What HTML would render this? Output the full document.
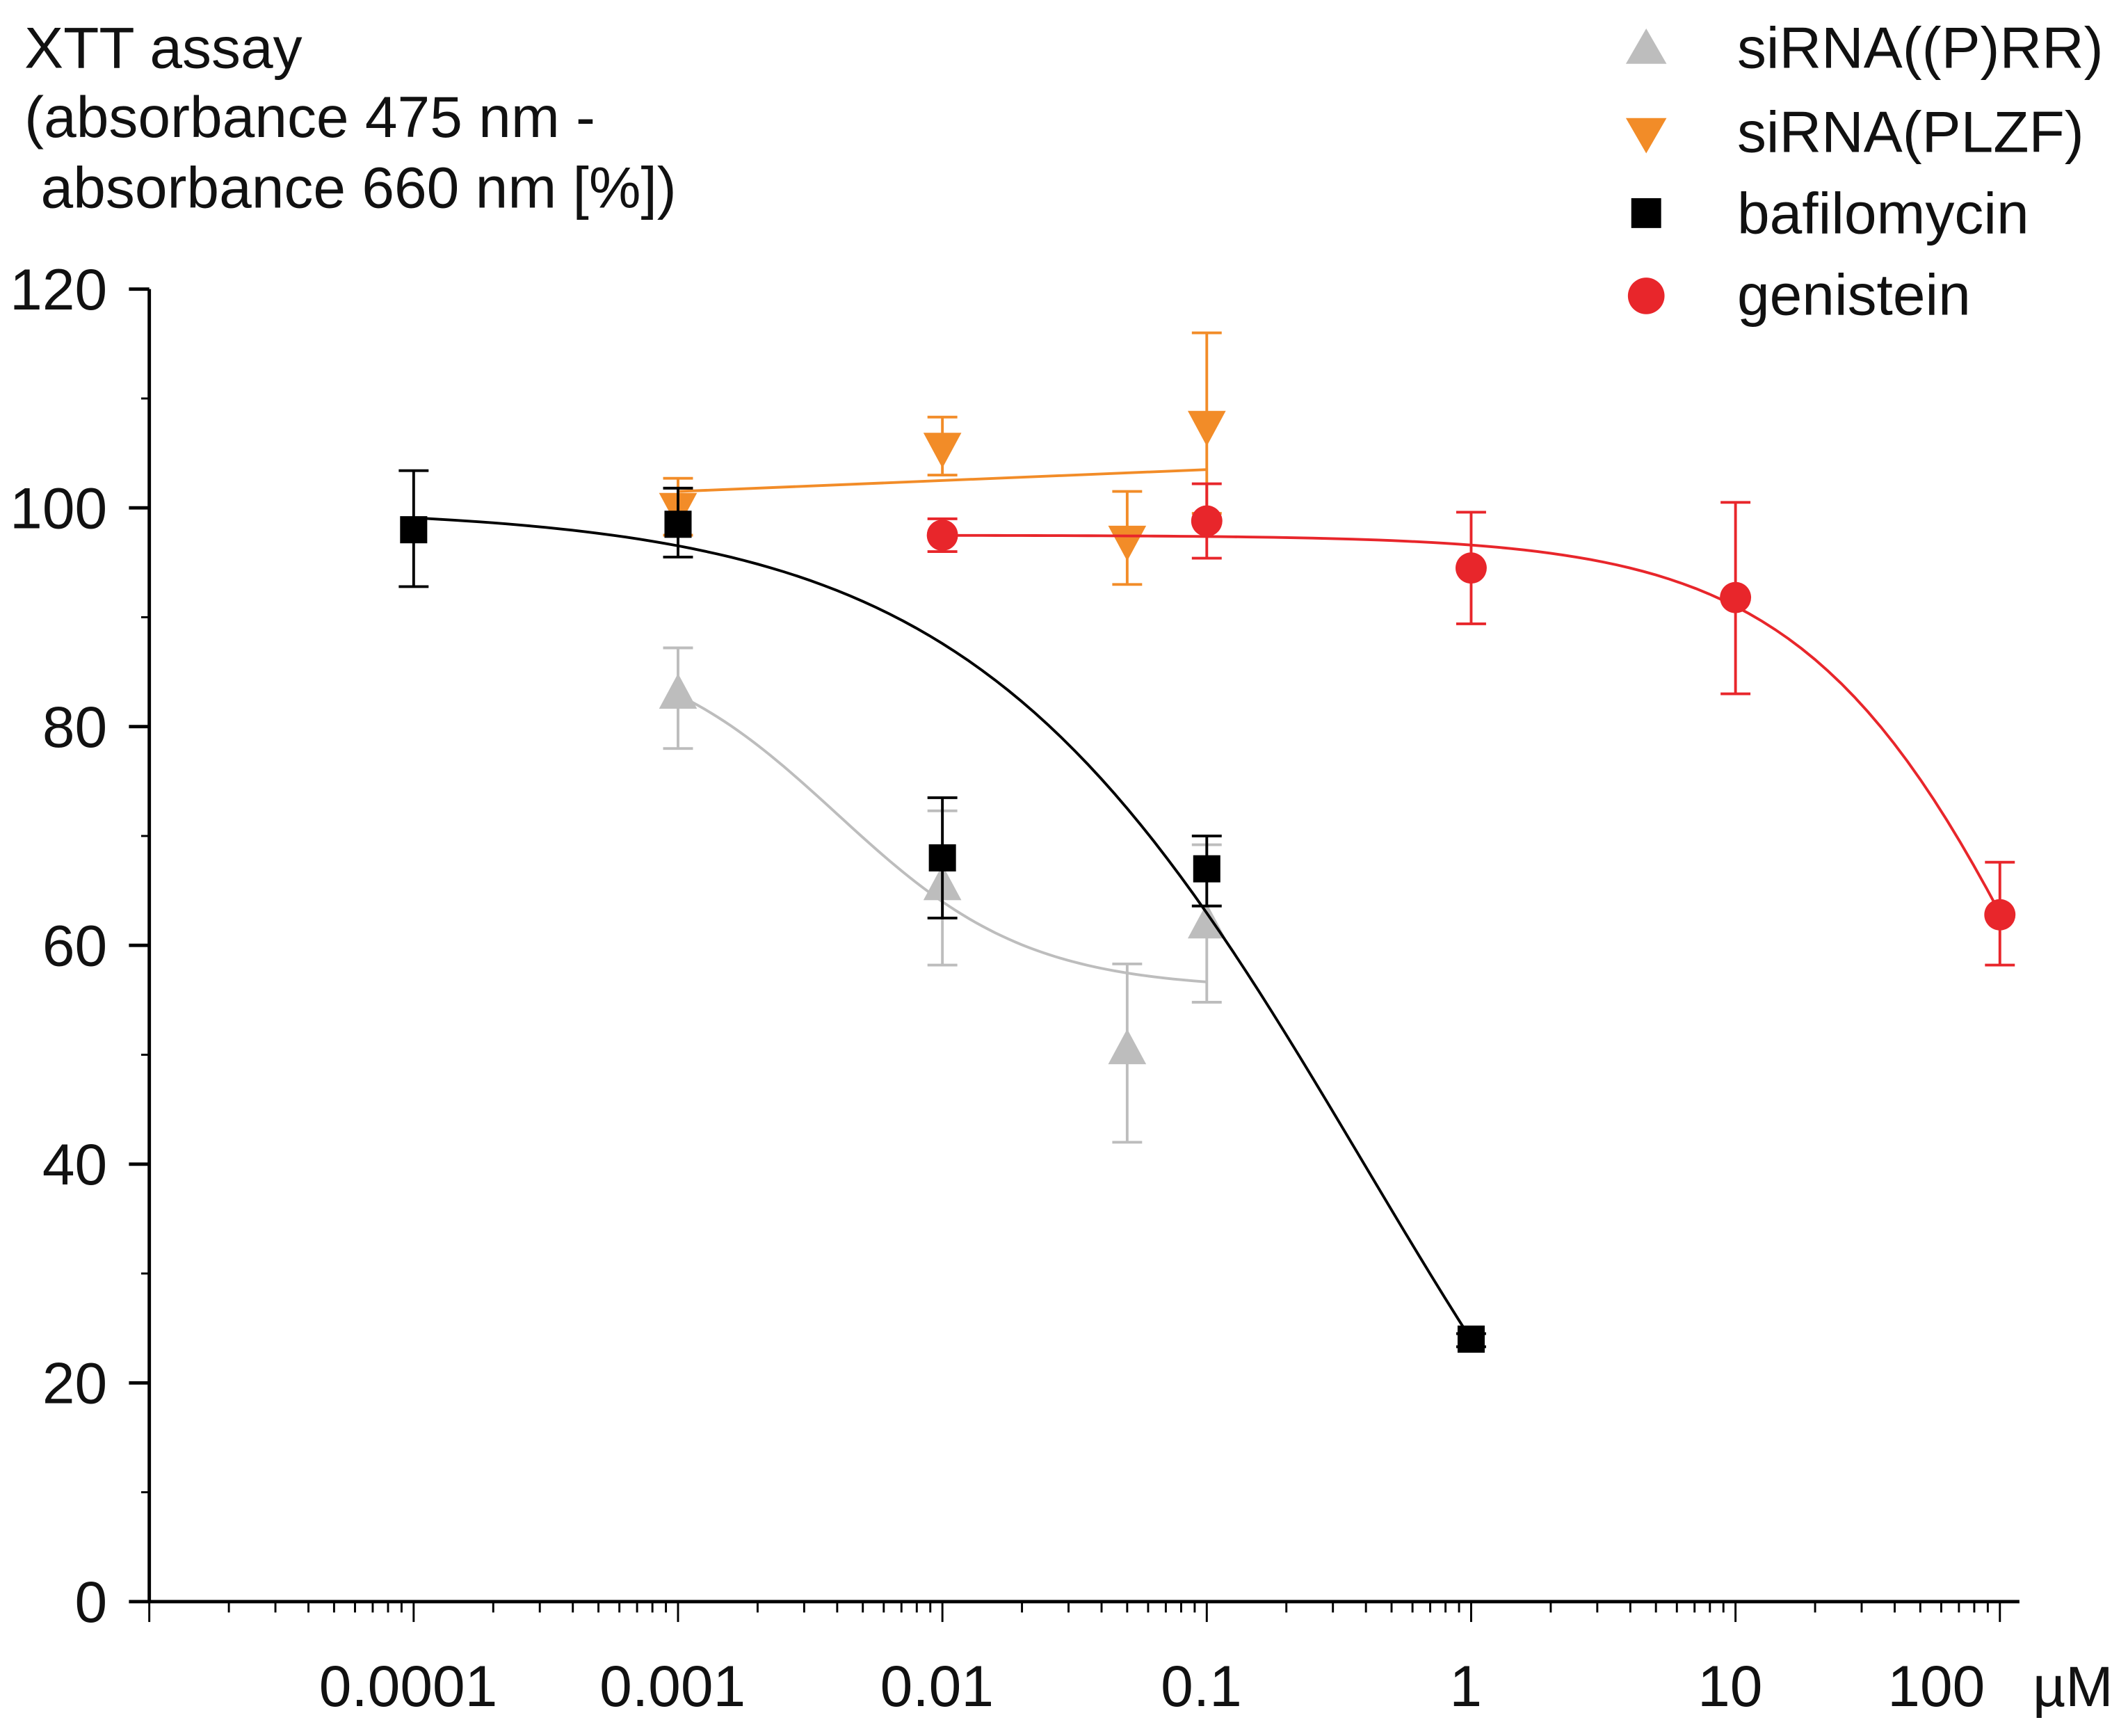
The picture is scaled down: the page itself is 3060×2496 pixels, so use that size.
<!DOCTYPE html>
<html><head><meta charset="utf-8"><style>
html,body{margin:0;padding:0;background:#fff;}
svg{display:block;}
text{font-family:"Liberation Sans",Arial,sans-serif;}
</style></head><body>
<svg id="chart" width="3060" height="2496" viewBox="0 0 1568 1279" preserveAspectRatio="none" xmlns="http://www.w3.org/2000/svg">
<g id="axes"></g>
<g id="series"></g>
<g font-size="43" fill="#111">
<text x="18" y="50">XTT assay</text>
<text x="18" y="101">(absorbance 475 nm -</text>
<text x="30" y="153">absorbance 660 nm [%])</text>
</g>
<text x="1557" y="1257" text-anchor="end" font-size="42" fill="#111">µM</text>
<g font-size="43" fill="#111">
<g><polygon points="1213,21 1228,47 1198,47" fill="#bdbdbd"/><text x="1280" y="50">siRNA((P)RR)</text></g>
<g><polygon points="1198,87 1228,87 1213,113" fill="#f28c28"/><text x="1280" y="112">siRNA(PLZF)</text></g>
<g><rect x="1202" y="146" width="22" height="22" fill="#000"/><text x="1280" y="172">bafilomycin</text></g>
<g><circle cx="1213" cy="218" r="13.5" fill="#e8262b"/><text x="1280" y="232">genistein</text></g>
</g>
</svg>
<script>
const yTicks=[0,20,40,60,80,100,120];
const xTickVals=[0.0001,0.001,0.01,0.1,1,10,100];
const xTickLabels=["0.0001","0.001","0.01","0.1","1","10","100"];
const prrX=[0.001,0.01,0.05,0.1];
const prrY=[83,65.5,50.5,62];
const prrLo=[78,58.2,42,54.8];
const prrHi=[87.2,72.3,58.3,69.2];
const prrFit=[88,56,0.004,1.2]; // top,bottom,ic50,hill
const plzfX=[0.001,0.01,0.05,0.1];
const plzfY=[100,105.5,97,107.5];
const plzfLo=[97.5,103,93,99.5];
const plzfHi=[102.7,108.3,101.5,116];
const plzfLine=[101.5,103.5];
const bafX=[0.0001,0.001,0.01,0.1,1];
const bafY=[98,98.5,68,67,24];
const bafLo=[92.8,95.5,62.5,63.6,23.3];
const bafHi=[103.4,101.8,73.5,70,24.5];
const bafFit=[100,-20,0.394,0.588];
const genX=[0.01,0.1,1,10,100];
const genY=[97.5,98.8,94.5,91.8,62.8];
const genLo=[96,95.4,89.4,83,58.2];
const genHi=[99,102.2,99.6,100.5,67.6];
const genFit=[97.5,0,197,0.885];

const NS="http://www.w3.org/2000/svg";
const X0=110,DEC=194.8,YB=1180,YT=213;
function sx(v){return X0+(Math.log10(v)+5)*DEC;}
function sy(v){return YB-(v/120)*(YB-YT);}
function mk(p,tag,attrs){const e=document.createElementNS(NS,tag);for(const k in attrs)e.setAttribute(k,attrs[k]);p.appendChild(e);return e;}
const axes=document.getElementById('axes');
const ser=document.getElementById('series');
let e;
e=mk(axes,'line',{x1:X0,y1:YT,x2:X0,y2:YB+1,stroke:'#000','stroke-width':2.5});


e=mk(axes,'line',{x1:X0-1,y1:YB,x2:1488,y2:YB,stroke:'#000','stroke-width':2.5});


for(let v=0;v<=120;v+=10){
  const major=v%20===0;
  e=mk(axes,'line',{x1:major?X0-15:X0-6,y1:sy(v),x2:X0,y2:sy(v),stroke:'#000','stroke-width':major?2.5:1.5});
  
  
}
yTicks.forEach(v=>{
  e=mk(axes,'text',{x:79,y:sy(v)+15,'text-anchor':'end','font-size':43,fill:'#111'});
  e.textContent=v;
  
  
});
for(let d=-5;d<=2;d++){
  for(let m=1;m<=9;m++){
    const v=m*Math.pow(10,d);const x=sx(v);if(x>1488)break;
    e=mk(axes,'line',{x1:x,y1:YB,x2:x,y2:m===1?YB+15:YB+8,stroke:'#000','stroke-width':1.5});
    
    
  }
}
xTickVals.forEach((v,i)=>{
  const last=i===xTickVals.length-1;
  e=mk(axes,'text',{x:last?sx(v)-11:sx(v)-4,y:1257,'text-anchor':last?'end':'middle','font-size':43,fill:'#111'});
  e.textContent=xTickLabels[i];
  
  
});
function fit(p,x){return p[1]+(p[0]-p[1])/(1+Math.pow(x/p[2],p[3]));}
function curve(p,x1,x2,color,name){
  let d='';const n=80;
  for(let i=0;i<=n;i++){const lx=Math.log10(x1)+(Math.log10(x2)-Math.log10(x1))*i/n;const x=Math.pow(10,lx);d+=(i?'L':'M')+sx(x).toFixed(2)+','+sy(fit(p,x)).toFixed(2);}
  e=mk(ser,'path',{d:d,fill:'none',stroke:color,'stroke-width':2});
  
  
}
function errs(xs,lo,hi,color,name){
  xs.forEach((x,i)=>{
    const g=mk(ser,'g',{stroke:color,'stroke-width':2});
    
    
    mk(g,'line',{x1:sx(x),y1:sy(lo[i]),x2:sx(x),y2:sy(hi[i])});
    mk(g,'line',{x1:sx(x)-11,y1:sy(lo[i]),x2:sx(x)+11,y2:sy(lo[i])});
    mk(g,'line',{x1:sx(x)-11,y1:sy(hi[i]),x2:sx(x)+11,y2:sy(hi[i])});
  });
}
errs(prrX,prrLo,prrHi,'#bdbdbd','error-bar-siRNA-PRR');
curve(prrFit,0.001,0.1,'#bdbdbd','fit-curve-siRNA-PRR');
prrX.forEach((x,i)=>{const cx=sx(x),cy=sy(prrY[i]);
  e=mk(ser,'polygon',{points:`${cx},${cy-15} ${cx+14},${cy+11} ${cx-14},${cy+11}`,fill:'#bdbdbd'});
  
  });
errs(plzfX,plzfLo,plzfHi,'#f28c28','error-bar-siRNA-PLZF');
e=mk(ser,'line',{x1:sx(0.001),y1:sy(plzfLine[0]),x2:sx(0.1),y2:sy(plzfLine[1]),stroke:'#f28c28','stroke-width':2});


plzfX.forEach((x,i)=>{const cx=sx(x),cy=sy(plzfY[i]);
  e=mk(ser,'polygon',{points:`${cx-14},${cy-11} ${cx+14},${cy-11} ${cx},${cy+15}`,fill:'#f28c28'});
  
  });
errs(bafX,bafLo,bafHi,'#000','error-bar-bafilomycin');
curve(bafFit,0.0001,1,'#000','fit-curve-bafilomycin');
bafX.forEach((x,i)=>{const cx=sx(x),cy=sy(bafY[i]);
  e=mk(ser,'rect',{x:cx-10,y:cy-10,width:20,height:20,fill:'#000'});
  
  });
errs(genX,genLo,genHi,'#e8262b','error-bar-genistein');
curve(genFit,0.01,100,'#e8262b','fit-curve-genistein');
genX.forEach((x,i)=>{
  e=mk(ser,'circle',{cx:sx(x),cy:sy(genY[i]),r:11.5,fill:'#e8262b'});
  
  });
</script>
</body></html>
